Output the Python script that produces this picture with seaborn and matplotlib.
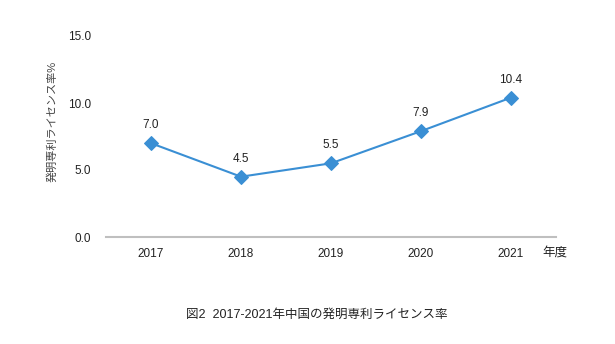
import matplotlib
matplotlib.use("Agg")
import matplotlib.pyplot as plt
import seaborn as sns
import pandas as pd

years = ["2017", "2018", "2019", "2020", "2021"]
rates = [7.0, 4.5, 5.5, 7.9, 10.4]
yticks = [0.0, 5.0, 10.0, 15.0]

sns.set_style("white")
plt.rcParams['font.family'] = ['Liberation Sans', 'Noto Sans CJK JP', 'DejaVu Sans']

df = pd.DataFrame({"year": years, "rate": rates})

fig = plt.figure(figsize=(6.15, 3.44), dpi=100)
ax = fig.add_axes([106/615, 1-237/344, 450/615, 201/344])
color = "#3a8fd4"
sns.lineplot(data=df, x="year", y="rate", ax=ax, color=color, marker="D",
             markersize=7, linewidth=1.5, markeredgecolor=color, sort=False)
for i, v in enumerate(rates):
    ax.text(i, v + 0.9, f"{v:.1f}", ha="center", va="bottom", fontsize=8.5, color="#222222")

ax.set_xlim(-0.5, len(years) - 0.5)
ax.set_ylim(0, 15)
ax.set_yticks(yticks)
ax.set_yticklabels([f"{t:.1f}" for t in yticks], fontsize=8.5, color="#222222")
ax.tick_params(axis="x", labelsize=8.5, colors="#222222", length=0, pad=8)
ax.tick_params(axis="y", length=0, pad=11)
for s in ["top", "right", "left"]:
    ax.spines[s].set_visible(False)
ax.spines["bottom"].set_color("#bfbfbf")
ax.spines["bottom"].set_linewidth(1.5)
ax.set_xlabel("")
ax.set_ylabel("発明専利ライセンス率%", fontsize=8, color="#444444")
ax.yaxis.set_label_coords((58 - 106) / 450, (237 - 121) / 201)
ax.grid(False)

fig.text(542/615, 1-253/344, "年度", fontsize=9, color="#222222", ha="left", va="center")
fig.text(317/615, 1-315/344, "図2  2017-2021年中国の発明専利ライセンス率", fontsize=9,
         color="#222222", ha="center", va="center")

fig.savefig("out.png", dpi=100)
